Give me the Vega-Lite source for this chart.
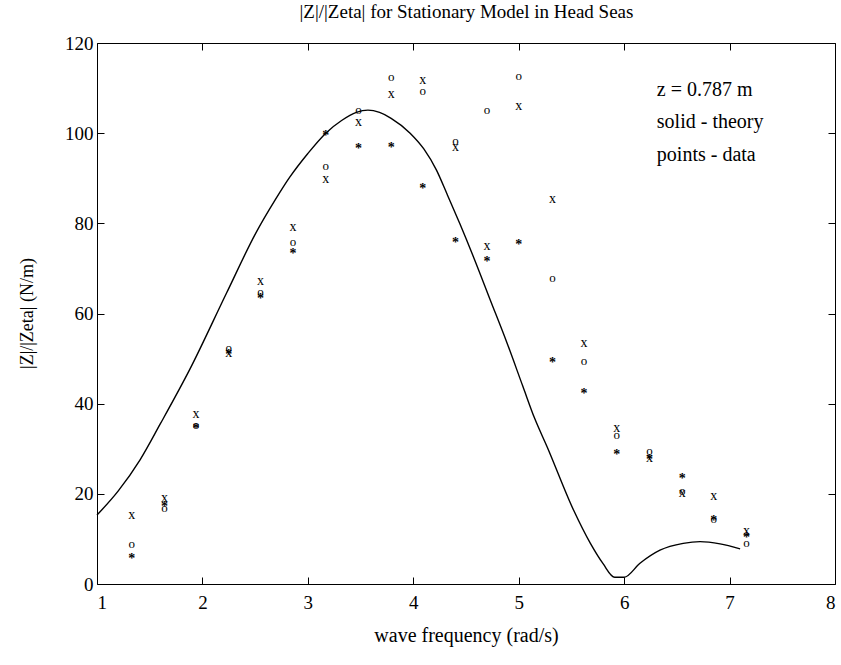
{
  "$schema": "https://vega.github.io/schema/vega-lite/v6.json",
  "width": 738,
  "height": 541,
  "autosize": {"type": "none"},
  "padding": {"left": 97, "top": 43, "right": 6, "bottom": 81},
  "background": "white",
  "config": {
    "view": {"stroke": null},
    "text": {"fill": "black"},
    "axis": {
      "domainColor": "black",
      "tickColor": "black",
      "labelColor": "black",
      "titleColor": "black",
      "grid": false,
      "labelFont": "Liberation Serif",
      "titleFont": "Liberation Serif",
      "labelFontSize": 19,
      "titleFontSize": 19,
      "titleFontWeight": "normal",
      "tickSize": -7,
      "domainWidth": 1,
      "tickWidth": 1
    }
  },
  "datasets": {
    "theory": [
      {"f": 1.00, "z": 15.3}, {"f": 1.20, "z": 20.6}, {"f": 1.41, "z": 27.6}, {"f": 1.60, "z": 35.5},
      {"f": 1.88, "z": 47.6}, {"f": 2.23, "z": 64.6}, {"f": 2.51, "z": 78.0}, {"f": 2.69, "z": 85.2},
      {"f": 2.83, "z": 90.3}, {"f": 3.00, "z": 95.5}, {"f": 3.17, "z": 100.0}, {"f": 3.32, "z": 102.8},
      {"f": 3.46, "z": 104.6}, {"f": 3.57, "z": 105.1}, {"f": 3.68, "z": 104.6}, {"f": 3.79, "z": 103.3},
      {"f": 3.97, "z": 100.0}, {"f": 4.10, "z": 96.5}, {"f": 4.22, "z": 91.8}, {"f": 4.32, "z": 86.5},
      {"f": 4.44, "z": 80.0}, {"f": 4.57, "z": 72.6}, {"f": 4.73, "z": 63.0}, {"f": 4.89, "z": 53.4},
      {"f": 5.04, "z": 43.8}, {"f": 5.15, "z": 36.8}, {"f": 5.27, "z": 30.4}, {"f": 5.52, "z": 16.4},
      {"f": 5.68, "z": 9.0}, {"f": 5.80, "z": 4.5}, {"f": 5.91, "z": 1.5}, {"f": 6.00, "z": 1.5},
      {"f": 6.15, "z": 4.6}, {"f": 6.34, "z": 7.5}, {"f": 6.56, "z": 9.0}, {"f": 6.72, "z": 9.4},
      {"f": 6.91, "z": 8.9}, {"f": 7.10, "z": 7.8}
    ],
    "points": [
      {"f": 1.33, "series": "x", "z": 15.2}, {"f": 1.33, "series": "o", "z": 8.6}, {"f": 1.33, "series": "*", "z": 6.1},
      {"f": 1.64, "series": "x", "z": 18.8}, {"f": 1.64, "series": "o", "z": 16.6}, {"f": 1.64, "series": "*", "z": 17.8},
      {"f": 1.94, "series": "x", "z": 37.5}, {"f": 1.94, "series": "o", "z": 35.1}, {"f": 1.94, "series": "*", "z": 34.9},
      {"f": 2.25, "series": "x", "z": 51.0}, {"f": 2.25, "series": "o", "z": 52.2}, {"f": 2.25, "series": "*", "z": 51.5},
      {"f": 2.55, "series": "x", "z": 67.1}, {"f": 2.55, "series": "o", "z": 64.6}, {"f": 2.55, "series": "*", "z": 63.9},
      {"f": 2.86, "series": "x", "z": 78.9}, {"f": 2.86, "series": "o", "z": 75.6}, {"f": 2.86, "series": "*", "z": 73.9},
      {"f": 3.17, "series": "x", "z": 89.6}, {"f": 3.17, "series": "o", "z": 92.6}, {"f": 3.17, "series": "*", "z": 100.0},
      {"f": 3.48, "series": "x", "z": 102.3}, {"f": 3.48, "series": "o", "z": 104.9}, {"f": 3.48, "series": "*", "z": 97.0},
      {"f": 3.79, "series": "x", "z": 108.5}, {"f": 3.79, "series": "o", "z": 112.2}, {"f": 3.79, "series": "*", "z": 97.4},
      {"f": 4.09, "series": "x", "z": 111.6}, {"f": 4.09, "series": "o", "z": 109.2}, {"f": 4.09, "series": "*", "z": 88.3},
      {"f": 4.40, "series": "x", "z": 96.7}, {"f": 4.40, "series": "o", "z": 98.0}, {"f": 4.40, "series": "*", "z": 76.3},
      {"f": 4.70, "series": "x", "z": 74.7}, {"f": 4.70, "series": "o", "z": 105.0}, {"f": 4.70, "series": "*", "z": 72.1},
      {"f": 5.00, "series": "x", "z": 105.9}, {"f": 5.00, "series": "o", "z": 112.4}, {"f": 5.00, "series": "*", "z": 75.9},
      {"f": 5.32, "series": "x", "z": 85.3}, {"f": 5.32, "series": "o", "z": 67.7}, {"f": 5.32, "series": "*", "z": 49.7},
      {"f": 5.62, "series": "x", "z": 53.2}, {"f": 5.62, "series": "o", "z": 49.2}, {"f": 5.62, "series": "*", "z": 42.7},
      {"f": 5.93, "series": "x", "z": 34.5}, {"f": 5.93, "series": "o", "z": 32.9}, {"f": 5.93, "series": "*", "z": 29.3},
      {"f": 6.24, "series": "x", "z": 27.7}, {"f": 6.24, "series": "o", "z": 29.3}, {"f": 6.24, "series": "*", "z": 28.2},
      {"f": 6.55, "series": "x", "z": 20.0}, {"f": 6.55, "series": "o", "z": 20.4}, {"f": 6.55, "series": "*", "z": 24.0},
      {"f": 6.85, "series": "x", "z": 19.4}, {"f": 6.85, "series": "o", "z": 14.3}, {"f": 6.85, "series": "*", "z": 14.5},
      {"f": 7.16, "series": "x", "z": 11.6}, {"f": 7.16, "series": "o", "z": 8.8}, {"f": 7.16, "series": "*", "z": 10.9}
    ],
    "notes": [
      {"f": 6.31, "z": 108.3, "label": "z = 0.787 m"},
      {"f": 6.31, "z": 101.2, "label": "solid - theory"},
      {"f": 6.31, "z": 93.9, "label": "points - data"}
    ]
  },
  "layer": [
    {
      "data": {"name": "theory"},
      "mark": {"type": "line", "color": "black", "strokeWidth": 1.4, "interpolate": "monotone"},
      "encoding": {
        "x": {
          "field": "f", "type": "quantitative",
          "scale": {"domain": [1, 8], "nice": false, "zero": false},
          "axis": {"orient": "bottom", "title": "wave frequency (rad/s)", "values": [1, 2, 3, 4, 5, 6, 7, 8],
                   "labelPadding": 16, "titleY": 57, "titleBaseline": "alphabetic", "titleFontSize": 20}
        },
        "y": {
          "field": "z", "type": "quantitative",
          "scale": {"domain": [0, 120], "nice": false, "zero": false},
          "axis": {"orient": "left", "title": "|Z|/|Zeta| (N/m)", "values": [0, 20, 40, 60, 80, 100, 120],
                   "labelPadding": 11, "titleX": -70, "titleY": 270, "titleAngle": -90,
                   "titleAlign": "center", "titleBaseline": "middle", "titleFontSize": 18}
        }
      }
    },
    {
      "data": {"name": "notes"},
      "mark": {"type": "text", "font": "Liberation Serif", "fontSize": 20, "fill": "black", "align": "left", "baseline": "alphabetic"},
      "encoding": {
        "x": {
          "field": "f", "type": "quantitative",
          "scale": {"domain": [1, 8], "nice": false, "zero": false},
          "axis": {"orient": "top", "title": "|Z|/|Zeta| for Stationary Model in Head Seas", "labels": false,
                   "values": [1, 2, 3, 4, 5, 6, 7, 8], "titleX": 369, "titleY": -26, "titleAlign": "center",
                   "titleBaseline": "alphabetic", "titleFontSize": 19}
        },
        "y": {
          "field": "z", "type": "quantitative",
          "scale": {"domain": [0, 120], "nice": false, "zero": false},
          "axis": {"orient": "right", "title": null, "labels": false, "values": [0, 20, 40, 60, 80, 100, 120]}
        },
        "text": {"field": "label", "type": "nominal"}
      }
    },
    {
      "data": {"name": "points"},
      "transform": [{"filter": "datum.series === 'x'"}],
      "mark": {"type": "text", "text": "x", "font": "Liberation Serif", "fontSize": 14, "fill": "black", "baseline": "alphabetic", "dy": 3.2},
      "encoding": {
        "x": {"field": "f", "type": "quantitative", "axis": null},
        "y": {"field": "z", "type": "quantitative", "axis": null}
      }
    },
    {
      "data": {"name": "points"},
      "transform": [{"filter": "datum.series === 'o'"}],
      "mark": {"type": "text", "text": "o", "font": "Liberation Serif", "fontSize": 13, "fill": "black", "baseline": "alphabetic", "dy": 3.0},
      "encoding": {
        "x": {"field": "f", "type": "quantitative", "axis": null},
        "y": {"field": "z", "type": "quantitative", "axis": null}
      }
    },
    {
      "data": {"name": "points"},
      "transform": [{"filter": "datum.series === '*'"}],
      "mark": {"type": "text", "text": "*", "font": "Liberation Serif", "fontSize": 14, "fontWeight": "bold", "fill": "black", "baseline": "alphabetic", "dy": 6.8},
      "encoding": {
        "x": {"field": "f", "type": "quantitative", "axis": null},
        "y": {"field": "z", "type": "quantitative", "axis": null}
      }
    }
  ],
  "resolve": {"axis": {"x": "independent", "y": "independent"}}
}
